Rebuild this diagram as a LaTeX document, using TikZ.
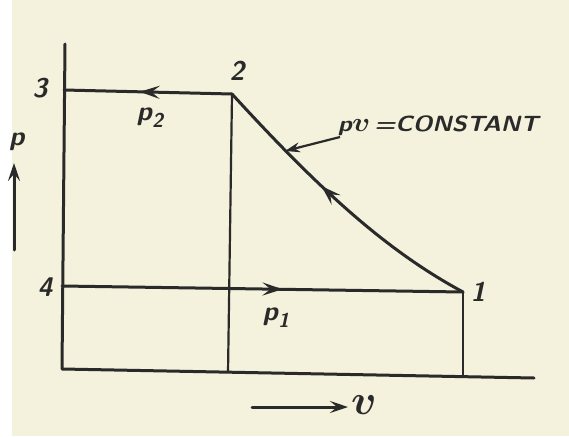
\documentclass[tikz,border=0pt]{standalone}
\usepackage{graphicx}
\usetikzlibrary{arrows.meta,decorations.markings}
\definecolor{paper}{HTML}{F4F2DC}
\definecolor{ink}{HTML}{2A2A2A}
\tikzset{
  ln/.style={draw=ink,line width=3pt,line cap=round,line join=round},
  thin/.style={draw=ink,line width=2.2pt},
  tipA/.style={-{Stealth[length=18pt,width=12pt,inset=7pt]}},
  midarrow/.style={postaction={decorate},decoration={markings,
     mark=at position #1 with {\arrow[ink]{Stealth[length=20pt,width=13pt,inset=8pt]}}}},
  lab/.style={font=\fontsize{27}{27}\selectfont\sffamily\bfseries\slshape\boldmath,text=ink,inner sep=0pt},
}
\begin{document}
\begin{tikzpicture}[x=1pt,y=-1pt]
\fill[white] (0,0) rectangle (569,436);
\fill[paper] (12,0) rectangle (569,436);
\useasboundingbox (0,0) rectangle (569,436);

\coordinate (top) at (65,44);
\coordinate (o) at (62,369);
\coordinate (ax) at (534,378);
\coordinate (p3) at (64,90);
\coordinate (p2) at (232,94);
\coordinate (p4) at (62,286);
\coordinate (p1) at (463,292);
\coordinate (b2) at (228,373);
\coordinate (b1) at (463,377);
\coordinate (pa0) at (14,250);
\coordinate (pa1) at (14,163);
\coordinate (va0) at (252,407);
\coordinate (va1) at (348,407);
\coordinate (cstart) at (340,137);
\coordinate (ctip) at (285,151);

% axes and verticals
\draw[ln] (top) -- (o) -- (ax);
\draw[thin] (p2) -- (b2);
\draw[thin] (p1) -- (b1);

% processes
\draw[ln,midarrow=0.55] (p2) -- (p3);
\draw[ln,midarrow=0.55] (p4) -- (p1);
\draw[ln,midarrow=0.58] (p1) .. controls (385,250) and (318,188) .. (p2);

% labels
\node[lab] (l3) at (40,88) {3};
\node[lab] (l2) at (237,71) {2};
\node[lab] (l4) at (45,287) {4};
\node[lab] (l1) at (478,292) {1};
\node[lab] (lp2) at (150,118) {p\raisebox{-7pt}{\fontsize{20}{20}\selectfont 2}};
\node[lab] (lp1) at (276,318) {p\raisebox{-7pt}{\fontsize{20}{20}\selectfont 1}};
\node[lab] (lp) at (17,142) {p};
\node[lab] (lv) at (364,405) {\scalebox{1.7}{$v$}};
\node[lab,anchor=west] (lc) at (338,126) {\scalebox{1.12}[1]{\fontsize{22}{22}\selectfont p\scalebox{1.3}{$v$}\,=CONSTANT}};

% arrows
\draw[ln,tipA] (pa0) -- (pa1);
\draw[ln,tipA] (va0) -- (va1);
\draw[thin,-{Stealth[length=15pt,width=10pt,inset=5pt]}] (cstart) -- (ctip);
\end{tikzpicture}
\end{document}
